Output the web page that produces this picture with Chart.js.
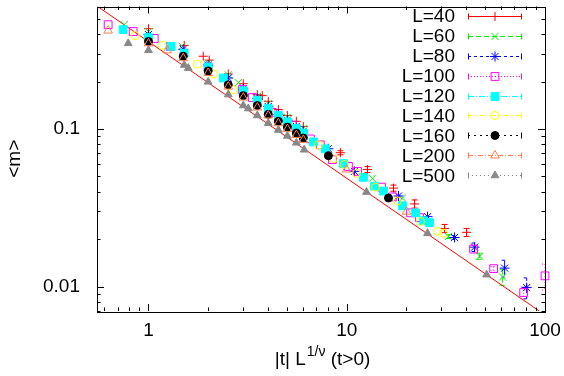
<!DOCTYPE html>
<html><head><meta charset="utf-8">
<script src="https://cdn.jsdelivr.net/npm/chart.js@4/dist/chart.umd.min.js"></script>
<style>html,body{margin:0;padding:0;background:#fff;}</style>
</head><body>
<canvas id="c" width="564" height="376"></canvas>
<script>
// ---- data ----
const xTickVals = [1, 10, 100];
const xTickLabels = ['1', '10', '100'];
const yTickVals = [0.01, 0.1];
const yTickLabels = ['0.01', '0.1'];

const fitX = [0.554, 93.5];
const fitY = [0.6, 0.007];

const L40x = [1.0,1.515,1.889,2.026,2.526,3.008,3.54,3.75,4.02,4.52,5.02,5.57,6.04,9.29,12.72,17.21,21.98,31.15,40.23];
const L40y = [0.434,0.340,0.290,0.274,0.224,0.194,0.1655,0.163,0.150,0.133,0.122,0.112,0.104,0.0708,0.0554,0.0422,0.0335,0.0234,0.0221];
const L40e = [0,0,0,0,0,0,0,0,0,0,0,0,0,0.0021,0.0024,0.0019,0.0020,0.0014,0.0013];

const L60x = [0.754,1.0,1.48,2.0,2.526,2.84,3.54,4.02,5.02,6.04,13.48,19.11,32.64,46.81,61.15];
const L60y = [0.460,0.416,0.335,0.262,0.221,0.197,0.161,0.145,0.119,0.101,0.0487,0.0365,0.0208,0.0156,0.0115];
const L60e = [0,0,0,0,0,0,0,0,0,0,0,0,0.0006,0.0007,0.0013];

const L80x = [1.0,1.497,2.0,2.526,3.008,3.54,4.02,4.52,5.02,5.57,6.04,8.08,10.94,18.25,25.56,34.99,44.15,62.59,80.84];
const L80y = [0.398,0.321,0.255,0.211,0.180,0.156,0.139,0.124,0.114,0.104,0.097,0.075,0.0539,0.0376,0.0278,0.0205,0.0178,0.0131,0.00986];
const L80e = [0,0,0,0,0,0,0,0,0,0,0,0,0,0,0,0.0006,0.0011,0.0016,0.0015];

const L100x = [0.626,0.837,1.069,1.287,2.0,2.97,3.34,4.215,5.32,6.56,7.36,8.47,10.2,11.33,14.98,17.01,20.97,23.29,43.64,55.07,78.07,100];
const L100y = [0.460,0.416,0.376,0.335,0.248,0.178,0.1585,0.1277,0.1059,0.0866,0.0794,0.0640,0.0579,0.0539,0.0428,0.0371,0.0294,0.0274,0.0173,0.0130,0.00917,0.0117];
const L100e = [0,0,0,0,0,0,0,0,0,0,0,0,0,0,0,0,0,0,0,0.0004,0.0008,0.0022];

const L120x = [0.745,1.0,1.302,1.515,2.0,2.384,3.008,3.54,4.02,4.52,5.02,5.57,6.04,6.79,7.8,9.62,12.14,13.8,15.33,19.11,22.23,24.4,26.17];
const L120y = [0.428,0.381,0.335,0.303,0.248,0.211,0.175,0.152,0.135,0.122,0.111,0.101,0.0944,0.0829,0.075,0.0604,0.0494,0.0434,0.0404,0.0326,0.0294,0.0262,0.0255];

const L140x = [0.857,1.173,1.762,2.122,2.678,7.2,8.57,9.74,11.2,13.96,18.04,23.56,28.72,30.79];
const L140y = [0.392,0.340,0.2585,0.224,0.178,0.0794,0.0649,0.0596,0.0523,0.0428,0.035,0.0259,0.0224,0.0218];

const L160x = [1.0,1.497,2.0,2.526,3.008,3.54,4.02,4.52,5.02,5.57,6.04,8.08,16.24];
const L160y = [0.360,0.290,0.234,0.191,0.163,0.141,0.124,0.112,0.103,0.0944,0.0878,0.0678,0.0365];

const L200x = [0.626,1.0,1.243,1.497,2.0,2.526,3.008,3.54,4.02,4.52,5.02,5.57,6.04,9.97,20.03];
const L200y = [0.422,0.350,0.316,0.282,0.227,0.186,0.1585,0.137,0.122,0.109,0.1,0.0917,0.0854,0.0554,0.0299];

const L500x = [0.79,1.0,1.515,1.587,2.0,2.526,3.008,3.188,3.54,4.02,4.52,5.02,5.57,6.1,12.58,25.56,50.76];
const L500y = [0.350,0.316,0.255,0.244,0.1995,0.1655,0.141,0.135,0.122,0.109,0.0986,0.0904,0.0818,0.0739,0.0398,0.0218,0.0119];

// ---- styling ----
const FONT = '"Liberation Sans", Arial, Helvetica, sans-serif';
const series = [
  {label:'L=40',  x:L40x,  y:L40y,  e:L40e,  color:'#ff0000', style:'cross',    r:4.5, fill:false, dash:[]},
  {label:'L=60',  x:L60x,  y:L60y,  e:L60e,  color:'#00ee00', style:'crossRot', r:5,   fill:false, dash:[5,3]},
  {label:'L=80',  x:L80x,  y:L80y,  e:L80e,  color:'#0000ff', style:'star',     r:5,   fill:false, dash:[3,3]},
  {label:'L=100', x:L100x, y:L100y, e:L100e, color:'#ff00ff', style:'rect',     r:5.5, fill:false, dash:[1,2]},
  {label:'L=120', x:L120x, y:L120y, e:null,  color:'#00ffff', style:'rect',     r:5.5, fill:true,  dash:[6,2,1,2]},
  {label:'L=140', x:L140x, y:L140y, e:null,  color:'#ffff00', style:'circle',   r:4,   fill:false, dash:[4,2,1,2,1,2]},
  {label:'L=160', x:L160x, y:L160y, e:null,  color:'#000000', style:'circle',   r:4,   fill:true,  dash:[2,4]},
  {label:'L=200', x:L200x, y:L200y, e:null,  color:'#ff7f50', style:'triangle', r:5,   fill:false, dash:[5,2,1,2]},
  {label:'L=500', x:L500x, y:L500y, e:null,  color:'#888888', style:'triangle', r:4.5, fill:true,  dash:[1,3]}
];

const datasets = [{
  label:'fit', type:'line',
  data: fitX.map((v,i)=>({x:v, y:fitY[i]})),
  borderColor:'#ff0000', borderWidth:1, pointRadius:0, fill:false, showLine:true,
  order:100
}];
series.forEach((s,i)=>{
  datasets.push({
    label:s.label,
    data:s.x.map((v,j)=>({x:v, y:s.y[j]})),
    showLine:false,
    pointStyle:s.style, pointRadius:s.r, pointHoverRadius:s.r,
    pointBorderWidth:1, borderColor:s.color,
    pointBorderColor:s.color,
    pointBackgroundColor:s.fill ? s.color : 'rgba(0,0,0,0)',
    backgroundColor:s.fill ? s.color : 'rgba(0,0,0,0)',
    errs:s.e, errDash:s.dash,
    clip:false,
    order:50 - i
  });
});

const errorBars = {
  id:'errorBars',
  beforeDatasetsDraw(chart){
    const {ctx} = chart, xs = chart.scales.x, ys = chart.scales.y;
    chart.data.datasets.forEach(ds=>{
      if(!ds.errs) return;
      ctx.save();
      ctx.strokeStyle = ds.borderColor; ctx.lineWidth = 1;
      ctx.setLineDash(ds.errDash || []);
      ds.data.forEach((p,j)=>{
        const e = ds.errs[j]; if(!e) return;
        const px = xs.getPixelForValue(p.x);
        const y1 = ys.getPixelForValue(p.y + e), y2 = ys.getPixelForValue(p.y - e);
        ctx.beginPath();
        ctx.moveTo(px, y1); ctx.lineTo(px, y2);
        ctx.moveTo(px-3, y1); ctx.lineTo(px+3, y1);
        ctx.moveTo(px-3, y2); ctx.lineTo(px+3, y2);
        ctx.stroke();
      });
      ctx.restore();
    });
  }
};

const frame = {
  id:'frame',
  afterDraw(chart){
    const {ctx, chartArea:a} = chart, xs = chart.scales.x, ys = chart.scales.y;
    ctx.save();
    ctx.strokeStyle = '#000'; ctx.lineWidth = 1; ctx.setLineDash([]);
    ctx.strokeRect(Math.round(a.left)+0.5, Math.round(a.top)+0.5, Math.round(a.right-a.left), Math.round(a.bottom-a.top));
    const MAJ = 7, MIN = 3.5;
    ctx.beginPath();
    [0.1,1,10].forEach(d=>{
      for(let k=1;k<10;k++){
        const v = d*k; if(v < xs.min || v > xs.max) continue;
        const len = (k===1) ? MAJ : MIN;
        const px = Math.round(xs.getPixelForValue(v)) + 0.5;
        ctx.moveTo(px, a.bottom); ctx.lineTo(px, a.bottom - len);
        ctx.moveTo(px, a.top); ctx.lineTo(px, a.top + len);
      }
    });
    [0.001,0.01,0.1].forEach(d=>{
      for(let k=1;k<10;k++){
        const v = d*k; if(v < ys.min || v >= ys.max) continue;
        const len = (k===1) ? MAJ : MIN;
        const py = Math.round(ys.getPixelForValue(v)) + 0.5;
        ctx.moveTo(a.left, py); ctx.lineTo(a.left + len, py);
        ctx.moveTo(a.right, py); ctx.lineTo(a.right - len, py);
      }
    });
    ctx.stroke();

    // axis titles
    ctx.fillStyle = '#000';
    ctx.textBaseline = 'alphabetic';
    const main = '|t| L', sup = '1/\u03bd', rest = ' (t>0)';
    ctx.font = '19px ' + FONT; const w1 = ctx.measureText(main).width, w3 = ctx.measureText(rest).width;
    ctx.font = '14px ' + FONT; const w2 = ctx.measureText(sup).width;
    let sx = (a.left + a.right)/2 - (w1 + w2 + w3)/2 + 1;
    const by = 365;
    ctx.font = '19px ' + FONT; ctx.textAlign = 'left';
    ctx.fillText(main, sx, by); sx += w1 + 1;
    ctx.font = '14px ' + FONT; ctx.fillText(sup, sx, by - 9); sx += w2;
    ctx.font = '19px ' + FONT; ctx.fillText(rest, sx, by);

    ctx.save();
    ctx.translate(20, (a.top + a.bottom)/2);
    ctx.rotate(-Math.PI/2);
    ctx.textAlign = 'center'; ctx.textBaseline = 'alphabetic';
    ctx.font = '19px ' + FONT;
    ctx.fillText('<m>', 0, 0);
    ctx.restore();

    // legend
    series.forEach((s,i)=>{
      const y = 15.7 + i*19.95;
      ctx.font = '19px ' + FONT; ctx.fillStyle = '#000';
      ctx.textAlign = 'right'; ctx.textBaseline = 'middle';
      ctx.fillText(s.label, 455, y + 1);
      ctx.strokeStyle = s.color; ctx.lineWidth = 1;
      ctx.setLineDash(s.dash);
      const yy = Math.round(y) + 0.5;
      ctx.beginPath(); ctx.moveTo(468, yy); ctx.lineTo(522, yy); ctx.stroke();
      ctx.setLineDash([]);
      ctx.beginPath();
      ctx.moveTo(468.5, yy-3); ctx.lineTo(468.5, yy+3);
      ctx.moveTo(521.5, yy-3); ctx.lineTo(521.5, yy+3);
      ctx.stroke();
      ctx.fillStyle = s.fill ? s.color : 'rgba(0,0,0,0)';
      Chart.helpers.drawPoint(ctx, {pointStyle:s.style, radius:s.r, borderWidth:1, rotation:0}, 495, yy);
    });
    ctx.restore();
  }
};

function noPad(scale){
  scale.paddingTop = 0; scale.paddingBottom = 0;
  scale.paddingLeft = 0; scale.paddingRight = 0;
}

new Chart(document.getElementById('c'), {
  type:'scatter',
  data:{datasets},
  options:{
    responsive:false, animation:false, devicePixelRatio:1, events:[],
    layout:{padding:{left:0, right:19, top:2, bottom:0}},
    plugins:{legend:{display:false}, tooltip:{enabled:false}, title:{display:false}},
    scales:{
      x:{
        type:'logarithmic', min:0.55, max:100,
        grid:{display:false, drawTicks:false}, border:{display:false},
        afterBuildTicks(scale){ scale.ticks = xTickVals.map(v=>({value:v})); },
        afterFit(scale){ scale.height = 65; noPad(scale); },
        ticks:{
          padding:8, color:'#000', font:{family:FONT, size:19}, maxRotation:0, autoSkip:false,
          callback(v){ const i = xTickVals.indexOf(v); return i >= 0 ? xTickLabels[i] : ''; }
        }
      },
      y:{
        type:'logarithmic', min:0.007, max:0.6,
        grid:{display:false, drawTicks:false}, border:{display:false},
        afterBuildTicks(scale){ scale.ticks = yTickVals.map(v=>({value:v})); },
        afterFit(scale){ scale.width = 97; noPad(scale); },
        ticks:{
          padding:17, color:'#000', font:{family:FONT, size:19}, autoSkip:false,
          callback(v){ const i = yTickVals.indexOf(v); return i >= 0 ? yTickLabels[i] : ''; }
        }
      }
    }
  },
  plugins:[errorBars, frame]
});
</script>
</body></html>
